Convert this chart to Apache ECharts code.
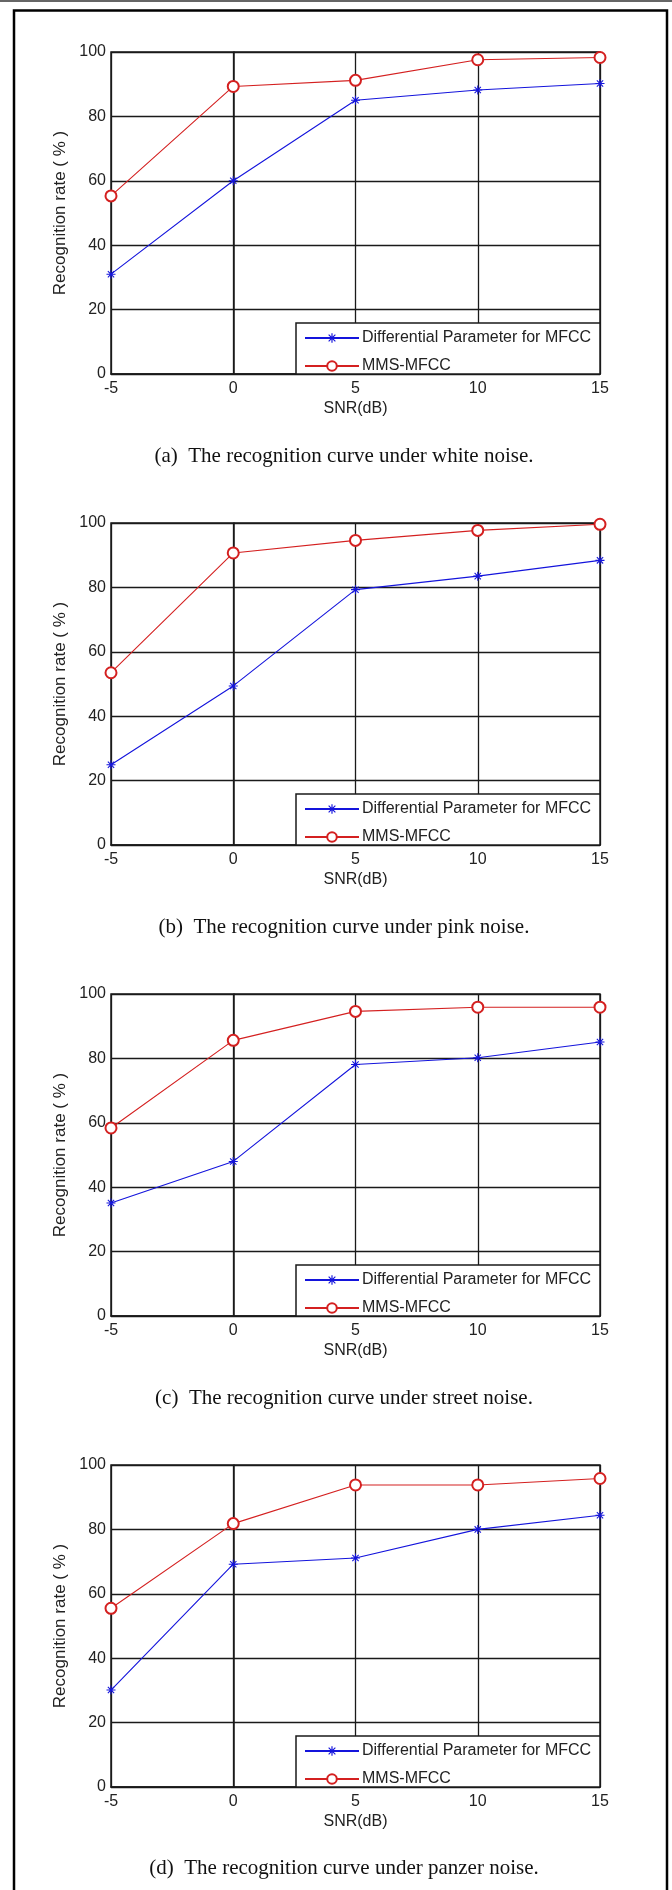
<!DOCTYPE html>
<html>
<head>
<meta charset="utf-8">
<script src="https://cdn.jsdelivr.net/npm/echarts@6/dist/echarts.min.js"></script>
<style>
html,body{margin:0;padding:0;background:#fff;}
#c{width:672px;height:1890px;}
</style>
</head>
<body>
<div id="c"></div>
<script>
// ---- data ----
const snr = [-5, 0, 5, 10, 15];
const xTicks = [-5, 0, 5, 10, 15];
const yTicks = [0, 20, 40, 60, 80, 100];
const seriesNames = ['Differential Parameter for MFCC', 'MMS-MFCC'];
const whiteDiff  = [31, 60, 85, 88.2, 90.2];
const whiteMms   = [55.3, 89.3, 91.2, 97.6, 98.3];
const pinkDiff   = [24.9, 49.4, 79.3, 83.5, 88.4];
const pinkMms    = [53.5, 90.7, 94.6, 97.7, 99.6];
const streetDiff = [35.1, 48, 78.1, 80.2, 85.1];
const streetMms  = [58.4, 85.6, 94.6, 95.9, 95.9];
const panzerDiff = [30.1, 69.2, 71.1, 80, 84.4];
const panzerMms  = [55.5, 81.8, 93.8, 93.8, 95.8];
const captions = [
  '(a)  The recognition curve under white noise.',
  '(b)  The recognition curve under pink noise.',
  '(c)  The recognition curve under street noise.',
  '(d)  The recognition curve under panzer noise.'
];
const panels = [
  [whiteDiff, whiteMms],
  [pinkDiff, pinkMms],
  [streetDiff, streetMms],
  [panzerDiff, panzerMms]
];

// ---- fonts: prefer a condensed sans like the original figure ----
function hasFont(name) {
  const ctx = document.createElement('canvas').getContext('2d');
  const probe = 'abcdefghijklmMWil0123';
  ctx.font = '40px monospace';
  const a = ctx.measureText(probe).width;
  ctx.font = '40px "' + name + '", monospace';
  const b = ctx.measureText(probe).width;
  return Math.abs(a - b) > 0.5;
}
const narrow = hasFont('Liberation Sans Narrow');
const sans = narrow ? '"Liberation Sans Narrow", "Noto Sans CJK SC", sans-serif'
                    : '"Liberation Sans", Arial, "Noto Sans CJK SC", sans-serif';
const tickSize = narrow ? 18 : 16;
const textSize = narrow ? 19 : 16;
const yNameSize = narrow ? 20 : 17;

// ---- layout ----
const tops = [52, 523, 994, 1465];
const captionY = [456, 927, 1398, 1868];
const gLeft = 111, gWidth = 489, gHeight = 322;
const blue = '#1414dc', red = '#d42020', ink = '#1a1a1a';
const asterisk = 'path://M-5,-0.6L5,-0.6L5,0.6L-5,0.6Z' +
  'M-0.6,-5L0.6,-5L0.6,5L-0.6,5Z' +
  'M-3.92,-3.08L-3.08,-3.92L3.92,3.08L3.08,3.92Z' +
  'M3.08,-3.92L3.92,-3.08L-3.08,3.92L-3.92,3.08Z';

const grids = [], xAxes = [], yAxes = [], series = [], legends = [], graphics = [];
tops.forEach((t, i) => {
  grids.push({left: gLeft, top: t, width: gWidth, height: gHeight, show: true,
    backgroundColor: '#fff', borderColor: ink, borderWidth: 1.5});
  xAxes.push({type: 'value', gridIndex: i, min: xTicks[0], max: xTicks[xTicks.length-1], interval: 5,
    name: 'SNR(dB)', nameLocation: 'middle', nameGap: 27,
    nameTextStyle: {fontFamily: sans, fontSize: textSize, color: '#222'},
    axisLine: {show: true, onZero: false, lineStyle: {color: ink, width: 1.5}},
    axisTick: {show: false},
    axisLabel: {margin: 7, fontFamily: sans, fontSize: tickSize, color: '#222'},
    splitLine: {show: true, lineStyle: {color: ink, width: 1.3}}});
  yAxes.push({type: 'value', gridIndex: i, min: yTicks[0], max: yTicks[yTicks.length-1], interval: 20,
    name: 'Recognition rate ( % )', nameLocation: 'middle', nameGap: 42, nameRotate: 90,
    nameTextStyle: {fontFamily: sans, fontSize: yNameSize, color: '#222'},
    axisLine: {show: true, lineStyle: {color: ink, width: 1.5}},
    axisTick: {show: false},
    axisLabel: {margin: 5, fontFamily: sans, fontSize: tickSize, color: '#222'},
    splitLine: {show: true, lineStyle: {color: ink, width: 1.3}}});
  const [d, m] = panels[i];
  series.push({type: 'line', name: seriesNames[0], xAxisIndex: i, yAxisIndex: i,
    data: snr.map((x, k) => [x, d[k]]), symbol: asterisk, symbolSize: 9,
    lineStyle: {color: blue, width: 1.1}, itemStyle: {color: blue}, animation: false, z: 5});
  series.push({type: 'line', name: seriesNames[1], xAxisIndex: i, yAxisIndex: i,
    data: snr.map((x, k) => [x, m[k]]), symbol: 'emptyCircle', symbolSize: 11,
    lineStyle: {color: red, width: 1.1}, itemStyle: {color: red, borderColor: red, borderWidth: 1.3},
    animation: false, z: 5});
  legends.push({show: true, data: seriesNames, orient: 'vertical', left: 304, top: t + 278,
    padding: 0, itemWidth: 54, itemHeight: 12, itemGap: 12, selectedMode: false, z: 10,
    textStyle: {fontFamily: sans, fontSize: textSize, color: '#222', padding: [0, 0, 0, -2]}});
  graphics.push({type: 'rect', z: 8, shape: {x: 296, y: t + 271, width: 304, height: 51},
    style: {fill: '#fff', stroke: ink, lineWidth: 1.5}});
  graphics.push({type: 'text', z: 8, x: 344, y: captionY[i],
    style: {text: captions[i], font: '21px "Liberation Serif", "Times New Roman", serif',
      fill: '#111', align: 'center', verticalAlign: 'middle'}});
});
// page frame
graphics.push({type: 'line', z: 8, shape: {x1: 0, y1: 1, x2: 672, y2: 1}, style: {stroke: '#666', lineWidth: 2}});
graphics.push({type: 'polyline', z: 8, shape: {points: [[14, 1890], [14, 10.5], [667, 10.5], [667, 1890]]},
  style: {stroke: '#000', lineWidth: 2.5, fill: null}});

const chart = echarts.init(document.getElementById('c'), null, {renderer: 'canvas'});
chart.setOption({
  animation: false,
  backgroundColor: '#fff',
  grid: grids, xAxis: xAxes, yAxis: yAxes, series: series, legend: legends, graphic: graphics
});
</script>
</body>
</html>
